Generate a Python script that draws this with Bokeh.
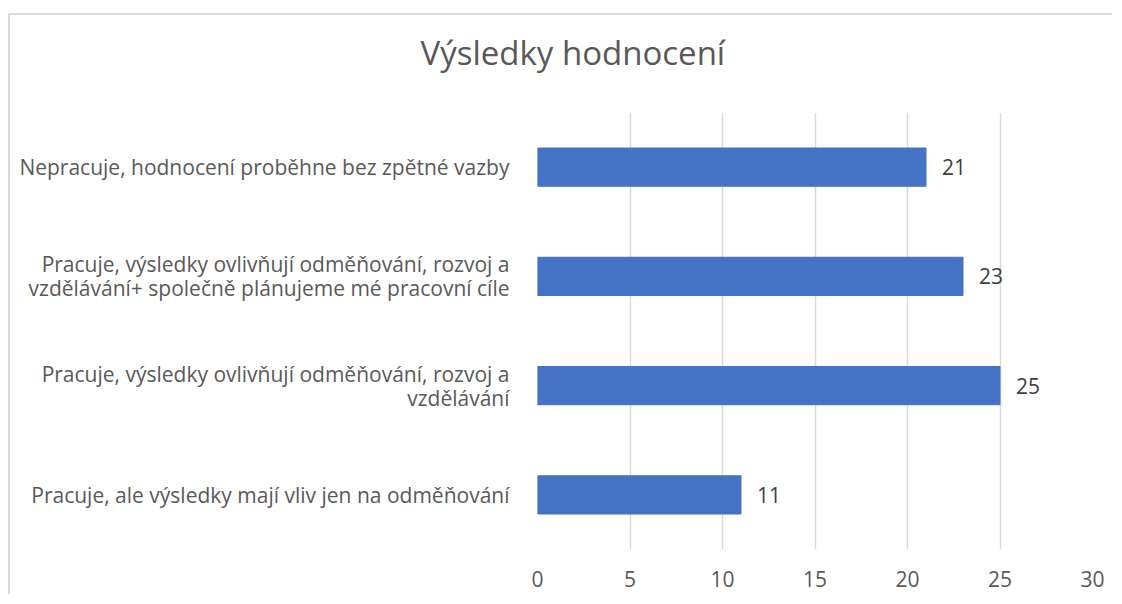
from bokeh.plotting import figure
from bokeh.models import ColumnDataSource, FixedTicker, Range1d, Title
from bokeh.core.properties import value
from bokeh.embed import file_html
from bokeh.resources import INLINE

# Data (bottom to top)
categories = [
    "Pracuje, ale výsledky mají vliv jen na odměňování",
    "Pracuje, výsledky ovlivňují odměňování, rozvoj a\nvzdělávání",
    "Pracuje, výsledky ovlivňují odměňování, rozvoj a\nvzdělávání+ společně plánujeme mé pracovní cíle",
    "Nepracuje, hodnocení proběhne bez zpětné vazby",
]
counts = [11, 25, 23, 21]
x_ticks = [0, 5, 10, 15, 20, 25, 30]
title_text = "Výsledky hodnocení"

FONT = "Open Sans"
GRAY = "#595959"

src = ColumnDataSource(dict(cat=categories, val=counts, lab=[str(v) for v in counts]))

W, H = 1104, 581
p = figure(width=W, height=H, y_range=categories, x_range=Range1d(0, 30),
           output_backend="svg", toolbar_location=None,
           min_border_left=527, min_border_right=22, min_border_top=97, min_border_bottom=47)
p.styles = {"border-top": "2px solid #d9d9d9", "border-left": "2px solid #d9d9d9",
            "margin-top": "13px", "margin-left": "8px"}
p.outline_line_color = None
p.background_fill_color = "white"
p.border_fill_color = "white"

# spacer between frame and title
p.add_layout(Title(text=" ", text_font_size="1px", standoff=34), "above")
t = Title(text=title_text, align="left", offset=-117, text_font=FONT, text_font_size="33px",
          text_color=GRAY, text_font_style="normal", standoff=2)
p.add_layout(t, "above")

p.hbar(y="cat", right="val", left=0, height=0.35, source=src, color="#4472C4")
p.text(x="val", y="cat", text="lab", source=src, x_offset=16, text_align="left",
       text_baseline="middle", text_font=value(FONT), text_font_size="21px", text_color="#404040")

# x axis
p.xaxis.ticker = FixedTicker(ticks=x_ticks)
p.xaxis.axis_line_color = None
p.xaxis.major_tick_line_color = None
p.xaxis.minor_tick_line_color = None
p.xaxis.major_label_standoff = 15
p.xaxis.major_label_text_font = FONT
p.xaxis.major_label_text_font_size = "21px"
p.xaxis.major_label_text_color = GRAY

p.xgrid.ticker = FixedTicker(ticks=x_ticks)
p.xgrid.grid_line_color = "#d9d9d9"
p.xgrid.grid_line_width = 1.5
p.ygrid.grid_line_color = None

# y axis
p.yaxis.axis_line_color = None
p.yaxis.major_tick_line_color = None
p.yaxis.minor_tick_line_color = None
p.yaxis.major_label_standoff = 22
p.yaxis.major_label_text_font = FONT
p.yaxis.major_label_text_font_size = "21px"
p.yaxis.major_label_text_line_height = 0.85
p.yaxis.major_label_text_color = GRAY

open("out.html", "w").write(file_html(p, INLINE))
